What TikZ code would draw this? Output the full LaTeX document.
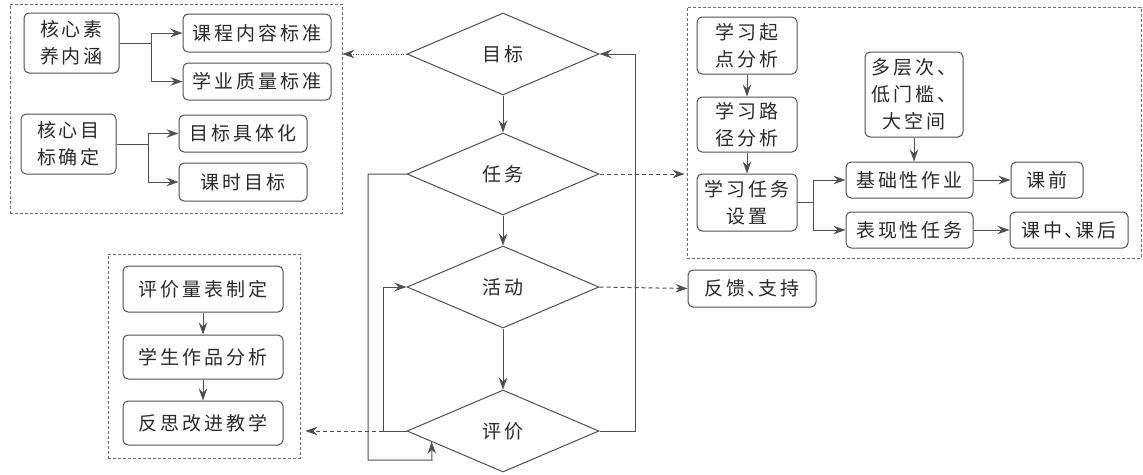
\documentclass[tikz,border=0pt]{standalone}
\usepackage{fontspec}
\newfontfamily\cjk[LetterSpace=15]{Noto Sans CJK SC}
\usetikzlibrary{shapes.geometric,arrows.meta,calc}
\definecolor{linec}{HTML}{505050}
\definecolor{textc}{HTML}{2A2A2A}
\definecolor{grpc}{HTML}{707070}
\newcommand{\dun}{、\hspace{-8pt}}
\begin{document}
\begin{tikzpicture}[x=1pt,y=-1pt,
  font=\cjk\fontsize{19}{27}\selectfont,
  box/.style={draw=linec, rounded corners=5pt, line width=1pt, inner sep=1pt, align=center, text=textc},
  grp/.style={draw=grpc, dash pattern=on 3pt off 2pt, line width=0.8pt, inner sep=0pt},
  arr/.style={-{Stealth[length=12pt,width=8.5pt,inset=4pt]}, line width=1pt, draw=linec},
  dia/.style={diamond, draw=linec, line width=1pt, minimum width=192pt, minimum height=82pt, inner sep=0pt, text=textc},
  dsh/.style={dash pattern=on 4pt off 3pt},
  dtt/.style={dash pattern=on 1pt off 1.5pt}]
\useasboundingbox[fill=white] (0,0) rectangle (1143,474);

% group boxes
\node[grp, minimum width=332pt, minimum height=209pt] (GL) at (176,108.5) {};
\node[grp, minimum width=192pt, minimum height=204pt] (GB) at (204,356) {};
\node[grp, minimum width=454pt, minimum height=251pt] (GR) at (914,132.5) {};

% left top group
\node[box, minimum width=95pt, minimum height=60pt] (A1) at (71.5,43) {核心素\\养内涵};
\node[box, minimum width=148pt, minimum height=38pt] (A2) at (257,33) {课程内容标准};
\node[box, minimum width=148pt, minimum height=37pt] (A3) at (257,81.5) {学业质量标准};
\node[box, minimum width=95pt, minimum height=60pt] (B1) at (68.5,144) {核心目\\标确定};
\node[box, minimum width=128pt, minimum height=37pt] (B2) at (243,133.5) {目标具体化};
\node[box, minimum width=128pt, minimum height=38pt] (B3) at (243,182) {课时目标};

% left bottom group
\node[box, minimum width=160pt, minimum height=46pt] (C1) at (203,289) {评价量表制定};
\node[box, minimum width=160pt, minimum height=44pt] (C2) at (203,357) {学生作品分析};
\node[box, minimum width=160pt, minimum height=44pt] (C3) at (203,423) {反思改进教学};

% diamonds
\node[dia] (D1) at (503,54) {目标};
\node[dia] (D2) at (503,174) {任务};
\node[dia] (D3) at (503,287) {活动};
\node[dia] (D4) at (503,431) {评价};

% right group
\node[box, minimum width=100pt, minimum height=57pt] (R1) at (747,45.5) {学习起\\点分析};
\node[box, minimum width=100pt, minimum height=55pt] (R2) at (747,124.5) {学习路\\径分析};
\node[box, minimum width=100pt, minimum height=57pt] (R3) at (747,202.5) {学习任务\\设置};
\node[box, minimum width=98pt, minimum height=85pt] (R4) at (914,94.5) {多层次、\\低门槛、\\大空间};
\node[box, minimum width=127pt, minimum height=36pt] (R5) at (909.5,180) {基础性作业};
\node[box, minimum width=127pt, minimum height=36pt] (R6) at (909.5,230) {表现性任务};
\node[box, minimum width=72pt, minimum height=36pt] (R7) at (1047,180) {课前};
\node[box, minimum width=118pt, minimum height=36pt] (R8) at (1069,230) {课中\dun 课后};
\node[box, minimum width=128pt, minimum height=37pt] (F) at (752,288.5) {反馈\dun 支持};

% left top connectors
\draw[arr] (A1.east) -- ++(32,0) |- (A2.west);
\draw[arr] (A1.east) -- ++(32,0) |- (A3.west);
\draw[arr] (B1.east) -- ++(32,0) |- (B2.west);
\draw[arr] (B1.east) -- ++(32,0) |- (B3.west);

% left bottom connectors
\draw[arr] (C1.south) -- (C2.north);
\draw[arr] (C2.south) -- (C3.north);

% right connectors
\draw[arr] (R1.south) -- (R2.north);
\draw[arr] (R2.south) -- (R3.north);
\draw[arr] (R3.east) -- ++(16,0) |- (R5.west);
\draw[arr] (R3.east) -- ++(16,0) |- (R6.west);
\draw[arr] (R4.south) -- (R4.south |- R5.north);
\draw[arr] (R5.east) -- (R7.west);
\draw[arr] (R6.east) -- (R8.west);

% main flow
\draw[arr] (D1.south) -- (D2.north);
\draw[arr] (D2.south) -- (D3.north);
\draw[arr] (D3.south) -- (D4.north);
\draw[arr] (D4.east) -- (635,431) |- (D1.east);
\coordinate (T) at ($(D4.west)!0.26!(D4.south)$);
\draw[arr] (D2.west) -- (368,174) |- (432,460) -- (T);
\coordinate (J) at (383,431);
\draw[arr] (D4.west) -- (J) |- (D3.west);

% dashed / dotted links
\draw[arr, dtt] (D1.west) -- (D1.west -| GL.east);
\draw[arr, dsh] (D2.east) -- ([xshift=-2pt]D2.east -| GR.west);
\draw[arr, dsh] (D3.east) -- (F.west);
\draw[arr, dsh] (J) -- ([xshift=5pt]J -| GB.east);
\end{tikzpicture}
\end{document}
